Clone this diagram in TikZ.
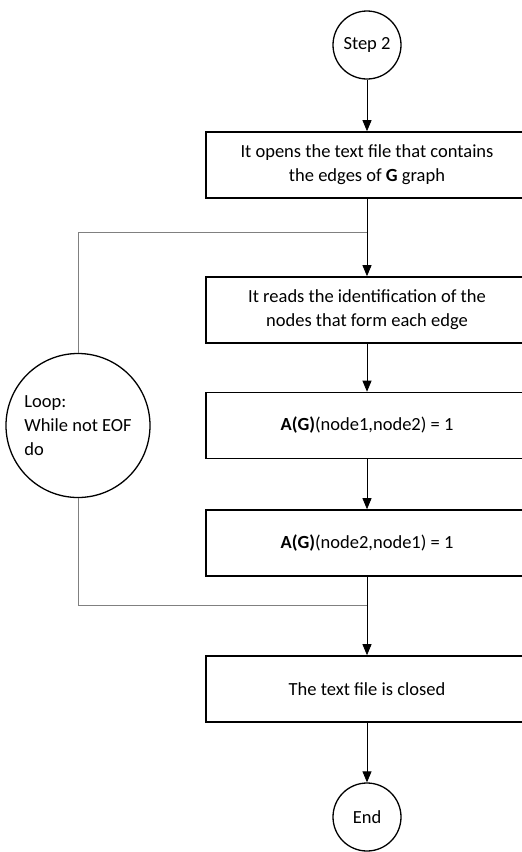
\documentclass[tikz,border=0pt]{standalone}
\usepackage{fontspec}
\setmainfont{Carlito}
\usetikzlibrary{arrows.meta}
\usetikzlibrary{positioning}

\tikzset{
  term/.style={draw,circle,line width=1.3pt,minimum size=68pt,inner sep=0pt},
  task/.style={draw,rectangle,line width=1.6pt,minimum width=322pt,minimum height=66pt,align=center,inner sep=2pt},
  loopnode/.style={draw,circle,line width=1.3pt,minimum size=144pt,inner sep=0pt,align=left},
  loopline/.style={draw=gray,line width=0.9pt},
  flow/.style={-{Triangle[width=9pt,length=11pt]},line width=0.8pt}
}

\begin{document}
\begin{tikzpicture}[on grid,font=\fontsize{18.5}{24}\selectfont]
  \useasboundingbox (0,0) rectangle (522pt,-852pt);
  \node[term] (step2) at (367pt,-45pt) {Step 2};
  \node[task] [below=120pt of step2] (open) {It opens the text file that contains\\the edges of \textbf{G} graph};
  \node[task] [below=145pt of open] (read) {It reads the identification of the\\nodes that form each edge};
  \node[task] [below=115.5pt of read] (set1) {\textbf{A(G)}(node1,node2) = 1};
  \node[task] [below=117.5pt of set1] (set2) {\textbf{A(G)}(node2,node1) = 1};
  \node[task] [below=146pt of set2] (close) {The text file is closed};
  \node[term] [below=128pt of close] (end) {End};
  \node[loopnode] [left=289pt of set1] (loop) {Loop:\\While not EOF\\do};
  \coordinate [below=67pt of open] (jtop);
  \coordinate [below=62pt of set2] (jbot);

  \draw[loopline] (loop.north) |- (jtop);
  \draw[loopline] (loop.south) |- (jbot);

  \draw[flow] (step2) -- (open);
  \draw[flow] (open) -- (read);
  \draw[flow] (read) -- (set1);
  \draw[flow] (set1) -- (set2);
  \draw[flow] (set2) -- (close);
  \draw[flow] (close) -- (end);
\end{tikzpicture}
\end{document}
